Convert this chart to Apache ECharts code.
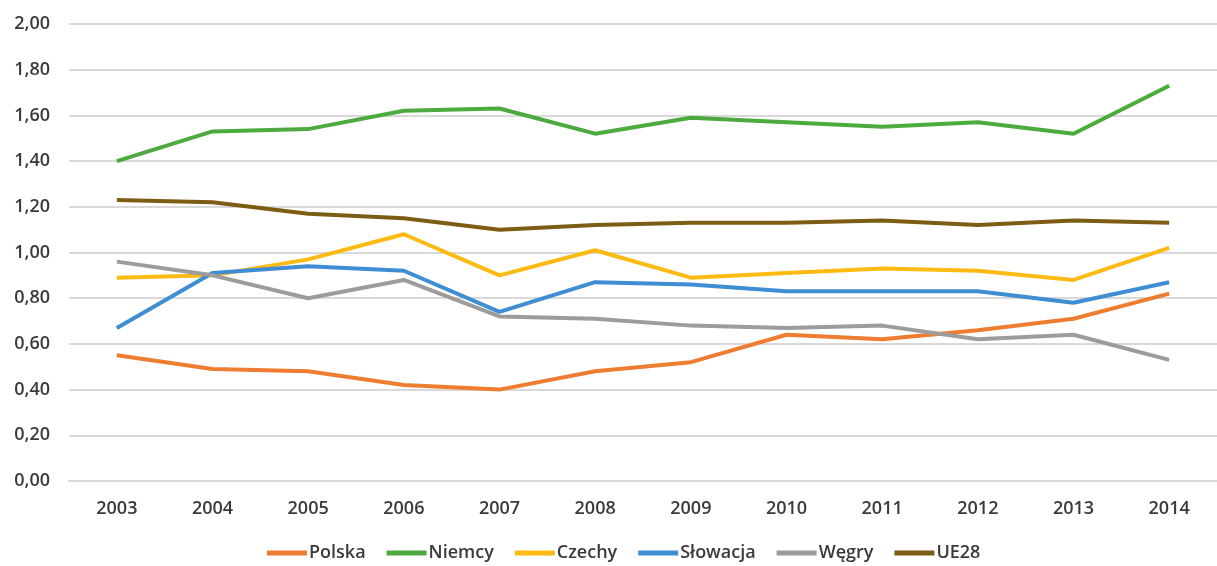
<!DOCTYPE html>
<html>
<head>
<meta charset="utf-8">
<script src="https://cdn.jsdelivr.net/npm/echarts@6/dist/echarts.min.js"></script>
<style>html,body{margin:0;padding:0;background:#fff;}#c{width:1217px;height:566px;}</style>
</head>
<body>
<div id="c"></div>
<script>
const years = ['2003','2004','2005','2006','2007','2008','2009','2010','2011','2012','2013','2014'];
const polska   = [0.55,0.49,0.48,0.42,0.40,0.48,0.52,0.64,0.62,0.66,0.71,0.82];
const niemcy   = [1.40,1.53,1.54,1.62,1.63,1.52,1.59,1.57,1.55,1.57,1.52,1.73];
const czechy   = [0.89,0.90,0.97,1.08,0.90,1.01,0.89,0.91,0.93,0.92,0.88,1.02];
const slowacja = [0.67,0.91,0.94,0.92,0.74,0.87,0.86,0.83,0.83,0.83,0.78,0.87];
const wegry    = [0.96,0.90,0.80,0.88,0.72,0.71,0.68,0.67,0.68,0.62,0.64,0.53];
const ue28     = [1.23,1.22,1.17,1.15,1.10,1.12,1.13,1.13,1.14,1.12,1.14,1.13];
const yTicks = { min: 0, max: 2, interval: 0.2 };

const names = ['Polska','Niemcy','Czechy','Słowacja','Węgry','UE28'];
const datas = [polska, niemcy, czechy, slowacja, wegry, ue28];
const colors = ['#EE7D32','#4DAA3F','#FDBA12','#3F8ED4','#9C9C9C','#7D5D14'];
const font = '"Open Sans", sans-serif';
const txt = '#3a3a3a';

const chart = echarts.init(document.getElementById('c'), null, {renderer:'canvas'});
chart.setOption({
  animation: false,
  backgroundColor: '#ffffff',
  grid: { left: 69, top: 24, width: 1157, height: 457, containLabel: false },
  legend: {
    bottom: -1, left: 262,
    icon: 'rect', itemWidth: 40, itemHeight: 5, itemGap: 21,
    textStyle: { fontFamily: font, fontSize: 18, fontWeight: 600, color: txt, padding: [0,0,0,-3] },
    data: names
  },
  xAxis: {
    type: 'category', data: years, boundaryGap: true,
    axisLine: { show: true, lineStyle: { color: '#d9d9d9', width: 2 } },
    axisTick: { show: false },
    axisLabel: { margin: 19, fontFamily: font, fontSize: 18, fontWeight: 600, color: txt }
  },
  yAxis: {
    type: 'value', min: yTicks.min, max: yTicks.max, interval: yTicks.interval,
    axisLine: { show: false }, axisTick: { show: false },
    splitLine: { lineStyle: { color: '#d9d9d9', width: 2 } },
    axisLabel: { margin: 19, fontFamily: font, fontSize: 18, fontWeight: 600, color: txt,
      formatter: v => v.toFixed(2).replace('.', ',') }
  },
  series: names.map((n, i) => ({
    name: n, type: 'line', data: datas[i], symbol: 'none',
    lineStyle: { color: colors[i], width: 4 }, itemStyle: { color: colors[i] }
  }))
});
</script>
</body>
</html>
